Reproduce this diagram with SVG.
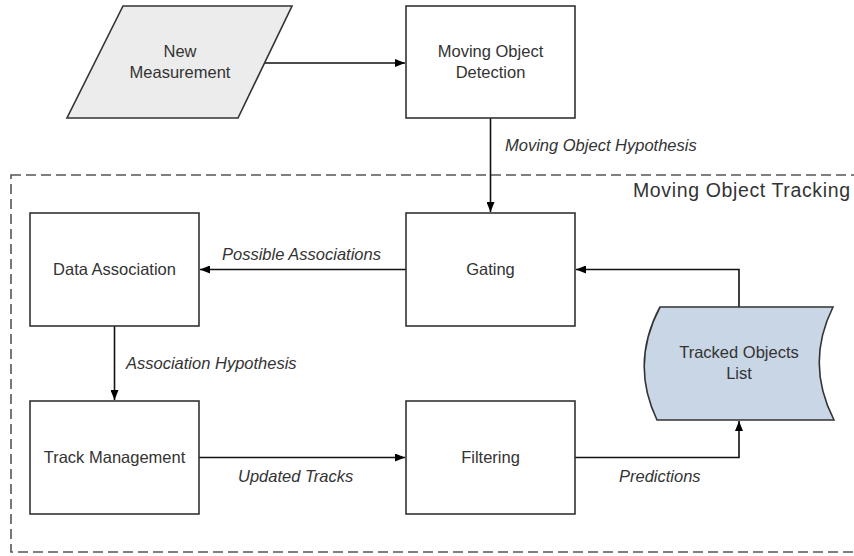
<svg xmlns="http://www.w3.org/2000/svg" width="854" height="556" viewBox="0 0 854 556">
<defs>
<marker id="arr" markerWidth="10" markerHeight="8" refX="10" refY="4" orient="auto" markerUnits="userSpaceOnUse">
<path d="M0,0 L10,4 L0,8 z" fill="#000"/>
</marker>
<style>
.box{fill:#fff;stroke:#333;stroke-width:1.6}
.t{font-family:"Liberation Sans",Arial,sans-serif;font-size:16.5px;fill:#333;text-anchor:middle}
.lbl{font-family:"Liberation Sans",Arial,sans-serif;font-size:16.5px;font-style:italic;fill:#333}
.con{fill:none;stroke:#111;stroke-width:1.6;marker-end:url(#arr)}
</style>
</defs>
<rect width="854" height="556" fill="#fff"/>
<g id="tracking-boundary">
<rect x="11" y="175" width="870" height="377" fill="none" stroke="#555" stroke-width="1.6" stroke-dasharray="10 5"/>
<text x="850" y="197" font-family="'Liberation Sans',Arial,sans-serif" font-size="19.5" fill="#333" text-anchor="end" textLength="217">Moving Object Tracking</text>
</g>
<g id="connectors">
<path class="con" d="M264.5,63 L405,63"/>
<path class="con" d="M490.5,118 L490.5,212"/>
<path class="con" d="M406,269.5 L200,269.5"/>
<path class="con" d="M114.5,326 L114.5,400"/>
<path class="con" d="M199,457.5 L405,457.5"/>
<path class="con" d="M575,457.5 L739,457.5 L739,421"/>
<path class="con" d="M739,307 L739,269.5 L576,269.5"/>
<text class="lbl" x="505" y="151">Moving Object Hypothesis</text>
<text class="lbl" x="222" y="260">Possible Associations</text>
<text class="lbl" x="126" y="369">Association Hypothesis</text>
<text class="lbl" x="238" y="482">Updated Tracks</text>
<text class="lbl" x="619" y="482">Predictions</text>
</g>
<g id="new-measurement">
<path d="M123,6 L292,6 L238,118 L67,118 Z" fill="#ececec" stroke="#333" stroke-width="1.6"/>
<text class="t" x="180" y="57">New</text>
<text class="t" x="180" y="78">Measurement</text>
</g>
<g id="moving-object-detection">
<rect class="box" x="406" y="6" width="169" height="112"/>
<text class="t" x="490.5" y="57">Moving Object</text>
<text class="t" x="490.5" y="78">Detection</text>
</g>
<g id="gating">
<rect class="box" x="406" y="213" width="169" height="113"/>
<text class="t" x="490.5" y="275">Gating</text>
</g>
<g id="data-association">
<rect class="box" x="30" y="213" width="169" height="113"/>
<text class="t" x="114.5" y="275">Data Association</text>
</g>
<g id="track-management">
<rect class="box" x="30" y="401" width="169" height="113"/>
<text class="t" x="114.5" y="463">Track Management</text>
</g>
<g id="filtering">
<rect class="box" x="406" y="401" width="169" height="113"/>
<text class="t" x="490.5" y="463">Filtering</text>
</g>
<g id="tracked-objects-list">
<path d="M660,307 L833,307 Q805,363.5 834,420 L657,420 Q630,363.5 660,307 Z" fill="#c9d6e5" stroke="#333" stroke-width="1.6"/>
<text class="t" x="739" y="358">Tracked Objects</text>
<text class="t" x="739" y="379">List</text>
</g>
</svg>
